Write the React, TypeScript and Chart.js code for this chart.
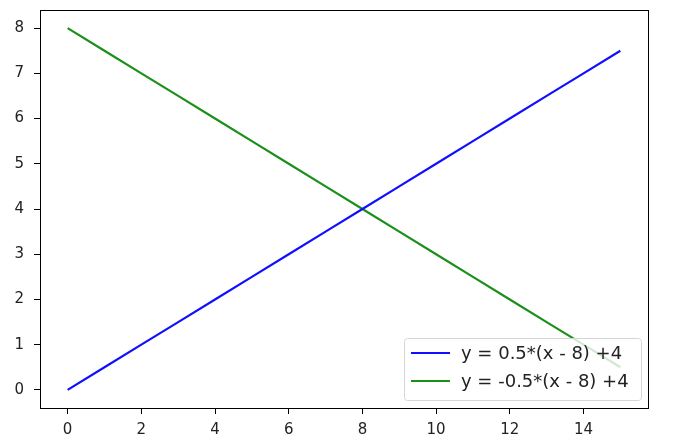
import React, { useEffect, useRef } from "react";
import { Chart, registerables } from "chart.js";

Chart.register(...registerables);

const xValues = [0, 1, 2, 3, 4, 5, 6, 7, 8, 9, 10, 11, 12, 13, 14, 15];
const blueValues = [0, 0.5, 1, 1.5, 2, 2.5, 3, 3.5, 4, 4.5, 5, 5.5, 6, 6.5, 7, 7.5];
const greenValues = [8, 7.5, 7, 6.5, 6, 5.5, 5, 4.5, 4, 3.5, 3, 2.5, 2, 1.5, 1, 0.5];
const seriesLabels = ["y = 0.5*(x - 8) +4", "y = -0.5*(x - 8) +4"];
const xTicks = [0, 2, 4, 6, 8, 10, 12, 14];
const yTicks = [0, 1, 2, 3, 4, 5, 6, 7, 8];

const FONT = "DejaVu Sans";

const framePlugin = {
  id: "frame",
  afterDraw(chart: any) {
    const { ctx, chartArea: a } = chart;
    ctx.save();
    ctx.strokeStyle = "#000";
    ctx.lineWidth = 1;
    ctx.strokeRect(Math.round(a.left) + 0.5, Math.round(a.top) + 0.5, Math.round(a.right - a.left), Math.round(a.bottom - a.top));
    // legend
    const bx = 404.5, by = 338.5, bw = 237, bh = 62, r = 3;
    ctx.beginPath();
    ctx.moveTo(bx + r, by);
    ctx.lineTo(bx + bw - r, by);
    ctx.quadraticCurveTo(bx + bw, by, bx + bw, by + r);
    ctx.lineTo(bx + bw, by + bh - r);
    ctx.quadraticCurveTo(bx + bw, by + bh, bx + bw - r, by + bh);
    ctx.lineTo(bx + r, by + bh);
    ctx.quadraticCurveTo(bx, by + bh, bx, by + bh - r);
    ctx.lineTo(bx, by + r);
    ctx.quadraticCurveTo(bx, by, bx + r, by);
    ctx.closePath();
    ctx.fillStyle = "rgba(255,255,255,0.8)";
    ctx.fill();
    ctx.strokeStyle = "#d6d6d6";
    ctx.stroke();
    const rows = [353, 381];
    chart.data.datasets.forEach((ds: any, i: number) => {
      ctx.beginPath();
      ctx.strokeStyle = ds.borderColor;
      ctx.lineWidth = 2.2;
      ctx.moveTo(411, rows[i]);
      ctx.lineTo(450, rows[i]);
      ctx.stroke();
      ctx.fillStyle = "#222";
      ctx.font = `18px "${FONT}"`;
      ctx.textBaseline = "middle";
      ctx.textAlign = "left";
      ctx.fillText(ds.label, 461, rows[i] + 1);
    });
    ctx.restore();
  },
};

export default function App() {
  const ref = useRef<HTMLCanvasElement>(null);
  useEffect(() => {
    if (!ref.current) return;
    const chart = new Chart(ref.current, {
      type: "line",
      data: {
        datasets: [
          {
            label: seriesLabels[0],
            data: xValues.map((x, i) => ({ x, y: blueValues[i] })),
            borderColor: "#1010ff",
            borderWidth: 2.2,
            pointRadius: 0,
            fill: false,
          },
          {
            label: seriesLabels[1],
            data: xValues.map((x, i) => ({ x, y: greenValues[i] })),
            borderColor: "#1a901a",
            borderWidth: 2.2,
            pointRadius: 0,
            fill: false,
          },
        ],
      },
      options: {
        responsive: false,
        animation: false,
        layout: { padding: { left: 0, top: 10, right: 27, bottom: 0 } },
        plugins: { legend: { display: false }, tooltip: { enabled: false } },
        scales: {
          x: {
            type: "linear",
            min: -0.75,
            max: 15.75,
            afterBuildTicks: (s: any) => {
              s.ticks = xTicks.map((v) => ({ value: v }));
            },
            afterFit: (s: any) => {
              s.height = 36;
              s.paddingLeft = 0;
              s.paddingRight = 0;
            },
            grid: { drawOnChartArea: false, drawTicks: true, tickLength: 6, color: "#000" },
            border: { display: false },
            ticks: { color: "#222", font: { family: FONT, size: 15 }, padding: 7, maxRotation: 0 },
          },
          y: {
            type: "linear",
            min: -0.4,
            max: 8.4,
            afterBuildTicks: (s: any) => {
              s.ticks = yTicks.map((v) => ({ value: v }));
            },
            afterFit: (s: any) => {
              s.width = 40;
              s.paddingTop = 0;
              s.paddingBottom = 0;
            },
            grid: { drawOnChartArea: false, drawTicks: true, tickLength: 6, color: "#000" },
            border: { display: false },
            ticks: { color: "#222", font: { family: FONT, size: 15 }, padding: 10 },
          },
        },
      },
      plugins: [framePlugin],
    } as any);
    return () => chart.destroy();
  }, []);
  return (
    <div style={{ position: "absolute", left: 0, top: 0, width: 675, height: 444, background: "#fff" }}>
      <canvas ref={ref} width={675} height={444} />
    </div>
  );
}
